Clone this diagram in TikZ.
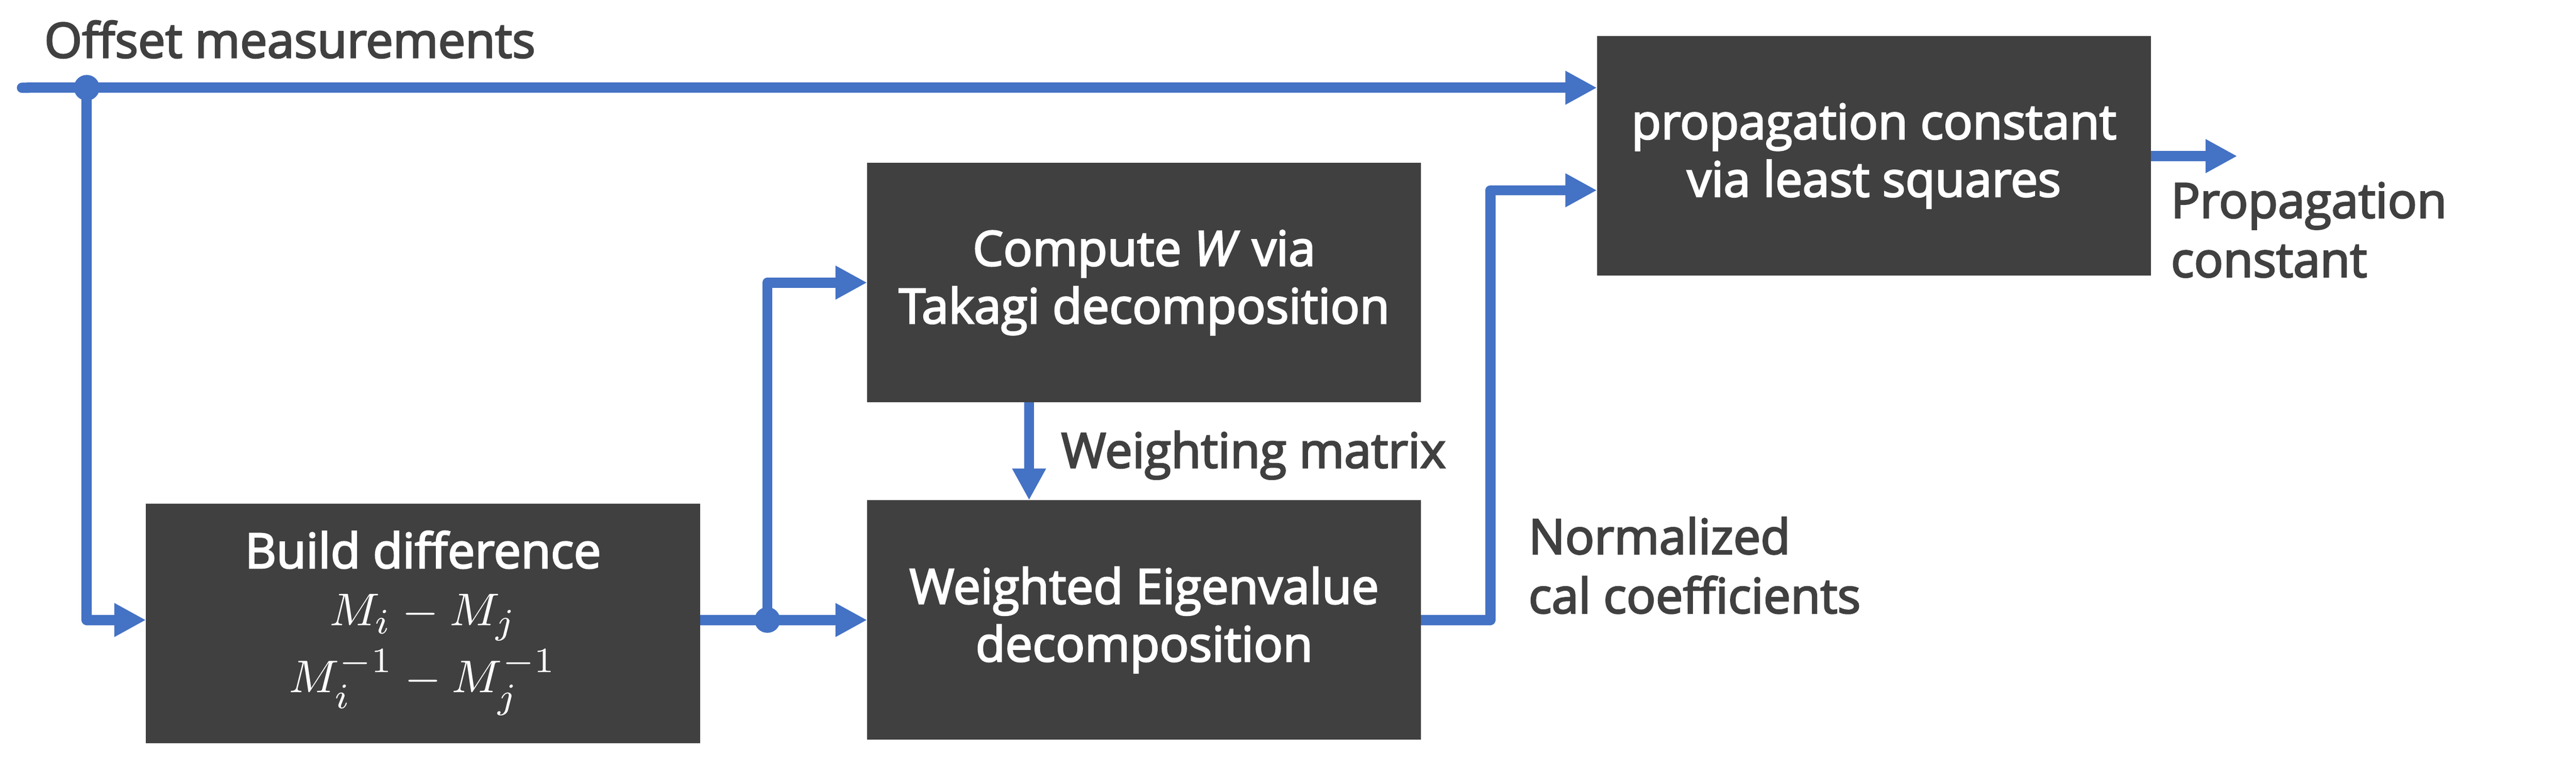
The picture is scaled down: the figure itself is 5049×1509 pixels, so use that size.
\documentclass[tikz,border=0pt]{standalone}
\usepackage{fontspec}
\setmainfont{Open Sans}[FakeBold=3]
\usetikzlibrary{arrows.meta,calc}
\definecolor{flowblue}{HTML}{4472C4}
\definecolor{boxgray}{HTML}{404040}
\definecolor{txtgray}{HTML}{404040}
\tikzset{
  procbox/.style={fill=boxgray, draw=none, text=white, align=center, inner sep=0pt, outer sep=0pt,
    minimum width=108.6pt, minimum height=47pt, font=\fontsize{9.5pt}{11.3pt}\selectfont},
  flow/.style={draw=flowblue, line width=2pt, line join=round,
    -{Triangle[length=6.2pt,width=6.2pt]}},
  junction/.style={circle, fill=flowblue, inner sep=0pt, minimum size=5pt},
  lbl/.style={text=txtgray, align=left, inner sep=0pt, font=\fontsize{9.5pt}{11.6pt}\selectfont}
}
\begin{document}
\begin{tikzpicture}[x=0.1pt,y=-0.1pt]
\useasboundingbox (0,0) rectangle (5049,1509);
% boxes
\node[procbox] (bd) at (829,1222) {Build difference\\$M_i-M_j$\\[0.8pt]$M_i^{-1}-M_j^{-1}$};
\node[procbox] (cw) at (2242.5,554) {Compute \textit{W} via\\Takagi decomposition};
\node[procbox] (we) at (2242.5,1215.5) {Weighted Eigenvalue\\decomposition};
\node[procbox] (pr) at (3673,305.5) {propagation constant\\via least squares};
% labels (base = baseline of last line)
\node[lbl, anchor=base west] (om) at (85,113) {Offset measurements};
\node[lbl, anchor=base west] (wm) at (2078,917) {Weighting matrix};
\node[lbl, anchor=base west] (nc) at (2994,1202) {Normalized\\cal coefficients};
\node[lbl, anchor=base west] (pc) at (4253,543) {Propagation\\constant};
% coordinates
\coordinate (start) at (33,172);
\coordinate (wx) at (2017,0);
\coordinate (bend) at (2921,373);
\coordinate (out) at (4385,306);
\coordinate (bdin) at (286,1215.5);
\coordinate (bdout) at (1372,1215.5);
\node[junction] (d1) at (170,172) {};
\node[junction] (d2) at (1504,1215.5) {};
% connectors
\draw[flow, {Round Cap[]}-{Triangle[length=6.2pt,width=6.2pt]}] (start) -- (pr.west |- start);
\draw[flow] (d1.center) |- (bd.west |- bdin);
\draw[flow] (bd.east |- bdout) -- (we.west);
\draw[flow] (d2.center) |- (cw.west);
\draw[flow] (cw.south -| wx) -- (we.north -| wx);
\draw[flow] (we.east) -| (bend) -- (pr.west |- bend);
\draw[flow] (pr.east |- out) -- (out);
\node[junction] at (d1) {};
\node[junction] at (d2) {};
\end{tikzpicture}
\end{document}
